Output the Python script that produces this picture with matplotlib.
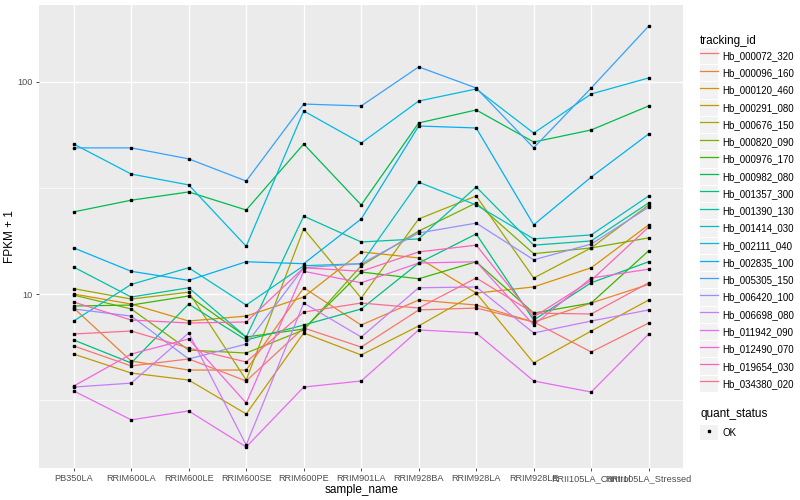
import matplotlib
matplotlib.use("Agg")
import matplotlib.pyplot as plt
from matplotlib.lines import Line2D
from matplotlib.patches import Patch
import numpy as np

plt.rcParams["font.family"] = ["Liberation Sans", "DejaVu Sans"]

samples = ["PB350LA", "RRIM600LA", "RRIM600LE", "RRIM600SE", "RRIM600PE",
           "RRIM901LA", "RRIM928BA", "RRIM928LA", "RRIM928LE",
           "RRII105LA_Control", "RRII105LA_Stressed"]

ids = ["Hb_000072_320", "Hb_000096_160", "Hb_000120_460", "Hb_000291_080",
       "Hb_000676_150", "Hb_000820_090", "Hb_000976_170", "Hb_000982_080",
       "Hb_001357_300", "Hb_001390_130", "Hb_001414_030", "Hb_002111_040",
       "Hb_002835_100", "Hb_005305_150", "Hb_006420_100", "Hb_006698_080",
       "Hb_011942_090", "Hb_012490_070", "Hb_019654_030", "Hb_034380_020"]

# ggplot default hue palette for 20 levels
colors = ["#F8766D", "#EA8331", "#D89000", "#C09B00", "#A3A500", "#7CAE00",
          "#39B600", "#00BB4E", "#00BF7D", "#00C1A3", "#00BFC4", "#00BAE0",
          "#00B0F6", "#35A2FF", "#9590FF", "#C77CFF", "#E76BF3", "#FA62DB",
          "#FF62BC", "#FF6C91"]

# FPKM + 1 per gene, one value per sample
fpkm = {
    "Hb_000072_320": [5.69, 4.58, 4.94, 3.89, 6.92, 5.62, 8.41, 8.59, 7.38, 5.33, 7.30],
    "Hb_000096_160": [8.59, 4.83, 4.38, 4.38, 10.7, 7.14, 9.37, 8.87, 7.38, 9.07, 11.1],
    "Hb_000120_460": [10.0, 8.97, 7.46, 7.87, 9.68, 15.8, 14.8, 10.1, 10.8, 13.3, 21.2],
    "Hb_000291_080": [5.21, 4.24, 3.93, 2.72, 6.55, 5.16, 7.07, 10.1, 4.73, 6.69, 9.37],
    "Hb_000676_150": [10.6, 9.47, 10.2, 3.93, 20.3, 9.57, 22.6, 29.0, 11.9, 16.5, 26.3],
    "Hb_000820_090": [9.89, 8.50, 5.44, 5.27, 6.77, 13.6, 19.8, 26.9, 15.5, 16.5, 18.4],
    "Hb_000976_170": [8.78, 8.87, 9.79, 6.27, 6.84, 12.7, 11.8, 14.2, 8.13, 9.07, 16.0],
    "Hb_000982_080": [24.4, 27.7, 30.3, 24.9, 51.0, 26.3, 64.1, 73.8, 52.1, 59.4, 77.1],
    "Hb_001357_300": [6.07, 4.73, 8.97, 6.07, 7.14, 8.50, 14.0, 19.2, 7.54, 11.3, 14.2],
    "Hb_001390_130": [13.4, 9.68, 10.7, 6.27, 23.3, 17.6, 18.2, 32.0, 17.0, 17.8, 26.9],
    "Hb_001414_030": [7.46, 11.1, 13.3, 8.87, 13.6, 13.9, 33.7, 26.3, 18.2, 19.0, 29.0],
    "Hb_002111_040": [51.0, 36.8, 32.7, 16.8, 73.0, 51.5, 81.3, 92.7, 57.4, 87.8, 104.5],
    "Hb_002835_100": [16.5, 12.8, 11.6, 14.2, 13.9, 22.6, 62.0, 60.7, 21.2, 35.6, 56.9],
    "Hb_005305_150": [48.9, 48.9, 43.4, 34.1, 78.7, 77.1, 117.8, 93.7, 48.9, 93.7, 183.6],
    "Hb_006420_100": [8.50, 7.87, 4.94, 5.81, 13.3, 13.9, 19.4, 21.6, 14.5, 17.2, 25.7],
    "Hb_006698_080": [3.64, 3.80, 6.55, 1.94, 9.07, 6.27, 10.7, 10.8, 6.55, 7.46, 8.41],
    "Hb_011942_090": [3.49, 2.55, 2.81, 1.90, 3.64, 3.89, 6.77, 6.55, 3.89, 3.45, 6.48],
    "Hb_012490_070": [3.68, 5.21, 6.14, 3.06, 12.8, 11.3, 14.0, 14.2, 7.14, 11.9, 13.1],
    "Hb_019654_030": [9.17, 7.54, 7.30, 7.38, 13.3, 12.8, 15.8, 17.0, 7.79, 11.6, 20.7],
    "Hb_034380_020": [6.48, 6.69, 5.56, 4.78, 8.22, 9.07, 8.59, 11.9, 8.13, 8.05, 11.3],
}

fig = plt.figure(figsize=(8, 5), dpi=100)
ax = fig.add_axes([0.049, 0.064, 0.805, 0.926])
ax.set_facecolor("#EBEBEB")

x = np.arange(len(samples))
for gid, col in zip(ids, colors):
    ax.plot(x, fpkm[gid], color=col, lw=0.9, zorder=3)
for gid in ids:
    ax.plot(x, fpkm[gid], ls="none", marker="s", ms=2.1, color="black", zorder=4)

ax.set_yscale("log")
ax.set_yticks([10, 100])
ax.set_yticklabels(["10", "100"])
ax.set_yticks([10 ** 0.5, 10 ** 1.5, 10 ** 2.5], minor=True)
ax.yaxis.set_minor_formatter(plt.NullFormatter())
ax.set_xticks(x)
ax.set_xticklabels(samples)

# ggplot-style 5% expansion in log space (set after ticks so it sticks)
allv = np.log10(np.concatenate([fpkm[g] for g in ids]))
lo, hi = allv.min(), allv.max()
pad = (hi - lo) * 0.05
ax.set_ylim(10 ** (lo - pad), 10 ** (hi + pad))
ax.set_xlim(-0.6, len(samples) - 0.4)

ax.grid(True, which="major", color="white", lw=1.0, zorder=0)
ax.grid(True, which="minor", axis="y", color="white", lw=0.5, zorder=0)
ax.set_axisbelow(True)
for s in ax.spines.values():
    s.set_visible(False)
ax.tick_params(axis="both", which="major", length=2.5, width=0.6, color="#333333",
               labelsize=6.6, labelcolor="#4D4D4D", pad=2)
ax.tick_params(axis="y", which="minor", length=0)

ax.set_xlabel("sample_name", fontsize=8.5, labelpad=0.5)
ax.set_ylabel("FPKM + 1", fontsize=8.5)
ax.yaxis.set_label_coords(-0.036, 0.5)

# legends
handles = [(Patch(facecolor="#F2F2F2", edgecolor="none"),
            Line2D([], [], color=c, lw=0.9)) for c in colors]
leg1 = fig.legend(handles, ids, title="tracking_id", loc="upper left",
                  bbox_to_anchor=(0.869, 0.94), frameon=False, fontsize=7,
                  title_fontsize=8.5, handlelength=1.8, handleheight=2.2,
                  labelspacing=0.1, handletextpad=0.5, borderpad=0,
                  alignment="left")
h2 = [(Patch(facecolor="#F2F2F2", edgecolor="none"),
       Line2D([], [], ls="none", marker="s", ms=2.1, color="black"))]
leg2 = fig.legend(h2, ["OK"], title="quant_status", loc="upper left",
                  bbox_to_anchor=(0.869, 0.193), frameon=False, fontsize=7,
                  title_fontsize=8.5, handlelength=1.8, handleheight=2.0,
                  handletextpad=0.5, borderpad=0, alignment="left")

fig.savefig("out.png", dpi=100)
